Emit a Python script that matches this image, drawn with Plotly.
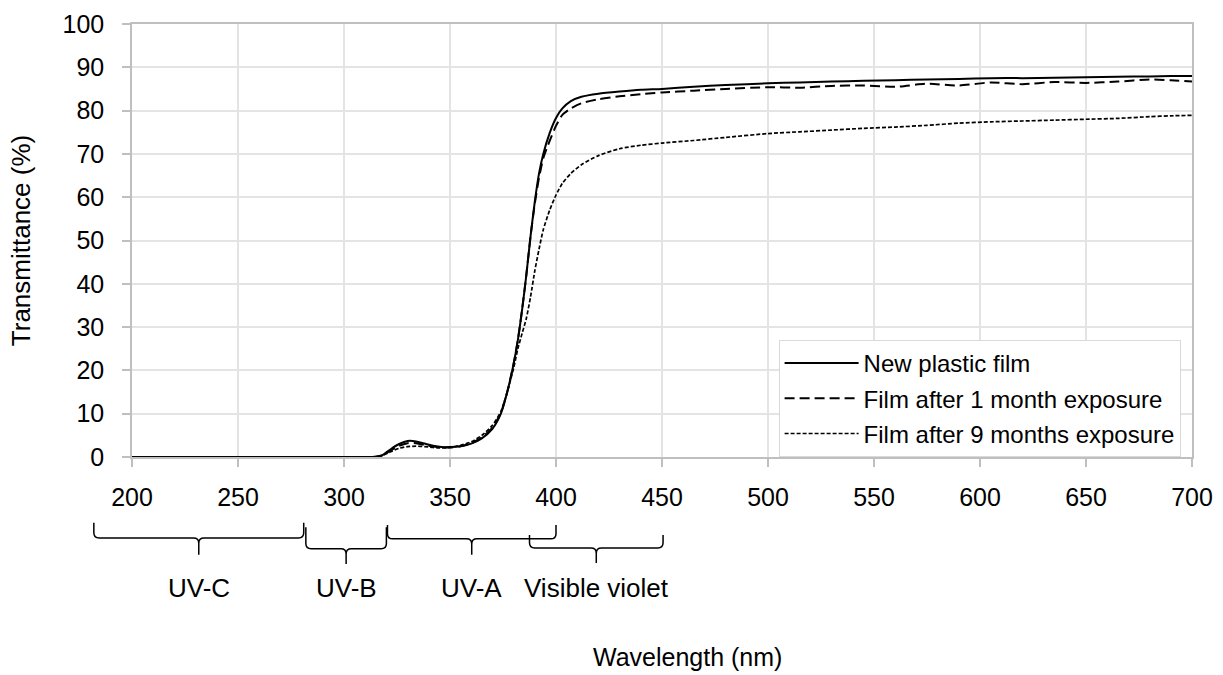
import plotly.graph_objects as go

# ---------------- data ----------------
wavelength = [200, 250, 300, 310, 315, 318, 322, 326, 330, 334, 338, 342, 346, 350, 355, 360, 365,
              370, 374, 377, 380, 382, 384, 386, 388, 390, 392, 394, 397, 400, 403, 407, 412, 420,
              430, 440, 450, 465, 480, 500, 515, 530, 545, 560, 575, 590, 605, 620, 635, 650, 665,
              680, 690, 700]

new_film = [0, 0, 0, 0, 0.05, 0.4, 1.8, 3.0, 3.7, 3.6, 3.1, 2.6, 2.3, 2.3, 2.5, 3.1, 4.3,
            6.5, 10, 15, 21.5, 27, 34, 42, 51, 59, 65.5, 70, 74.8, 78.3, 80.5, 82.2, 83.2, 83.9,
            84.4, 84.8, 85.0, 85.5, 85.9, 86.3, 86.5, 86.7, 86.9, 87.0, 87.2, 87.3, 87.5, 87.5, 87.6, 87.7, 87.8,
            87.9, 88.0, 88.0]

one_month = [0, 0, 0, 0, 0.05, 0.3, 1.5, 2.6, 3.2, 3.2, 2.8, 2.4, 2.2, 2.2, 2.5, 3.2, 4.5,
             6.8, 10.2, 15, 21.5, 27, 34, 42, 51, 58.5, 64.5, 69, 73, 76.5, 79, 80.5, 81.7, 82.6,
             83.3, 83.8, 84.2, 84.6, 85.0, 85.4, 85.3, 85.7, 85.8, 85.5, 86.2, 85.8, 86.5, 86.1, 86.6, 86.4, 86.7,
             87.2, 87.0, 86.7]

nine_months = [0, 0, 0, 0, 0.05, 0.3, 1.2, 2.0, 2.4, 2.5, 2.4, 2.2, 2.1, 2.2, 2.7, 3.5, 5.0,
               7.3, 10.5, 15, 20.5, 25, 28.5, 32, 37, 43, 48, 52.5, 57, 60.5, 63.2, 65.5, 67.5, 69.6,
               71.2, 72.0, 72.5, 73.1, 73.8, 74.7, 75.1, 75.5, 75.9, 76.2, 76.6, 77.1, 77.4, 77.6, 77.8, 78.0, 78.2,
               78.6, 78.8, 78.9]

series_names = ["New plastic film", "Film after 1 month exposure", "Film after 9 months exposure"]

# spectral bands shown with braces under the axis
band_names = ["UV-C", "UV-B", "UV-A", "Visible violet"]
band_start = [182, 282, 320.5, 387.5]
band_end = [281, 320, 400, 450.5]

x_title = "Wavelength (nm)"
y_title = "Transmittance (%)"

x_range = [200, 700]
y_range = [0, 100]

# ---------------- styles ----------------
FONT = "Liberation Sans, Arial, Helvetica, sans-serif"
line_styles = [dict(color="black", width=2, dash="solid"),
               dict(color="black", width=2, dash="10px,5px"),
               dict(color="black", width=1.7, dash="4px,2px")]

# vertical levels (paper units) of each brace: top of ends, horizontal bar, bottom of prong
brace_levels = [(-0.152, -0.187, -0.226),
                (-0.162, -0.212, -0.247),
                (-0.157, -0.189, -0.226),
                (-0.180, -0.210, -0.245)]
label_y = -0.302

fig = go.Figure()
for i, (name, vals, st) in enumerate(zip(series_names, [new_film, one_month, nine_months], line_styles)):
    fig.add_trace(go.Scatter(x=wavelength, y=vals, mode="lines", name=name, legendgroup=f"g{i}",
                             line=dict(color=st["color"], width=st["width"], dash=st["dash"],
                                       shape="spline", smoothing=0.6)))


def to_paper(wl):
    return (wl - x_range[0]) / (x_range[1] - x_range[0])


shapes = []
annotations = []
for nm, a, b, (yt, yh, yb) in zip(band_names, band_start, band_end, brace_levels):
    x0, x1 = to_paper(a), to_paper(b)
    xc = (x0 + x1) / 2
    rx, ry = 0.005, 0.012
    path = (f"M{x0},{yt} L{x0},{yh + ry} Q{x0},{yh} {x0 + rx},{yh} L{xc - rx},{yh} "
            f"Q{xc},{yh} {xc},{yh - ry} L{xc},{yb} M{xc},{yh - ry} Q{xc},{yh} {xc + rx},{yh} "
            f"L{x1 - rx},{yh} Q{x1},{yh} {x1},{yh + ry} L{x1},{yt}")
    shapes.append(dict(type="path", path=path, xref="paper", yref="paper",
                       line=dict(color="black", width=1.5)))
    annotations.append(dict(text=nm, x=xc, y=label_y, xref="paper", yref="paper",
                            showarrow=False, xanchor="center", yanchor="middle",
                            font=dict(size=26, color="black", family=FONT)))

# x-axis title (placed slightly right of centre, as in the original)
annotations.append(dict(text=x_title, x=0.524, y=-0.462, xref="paper", yref="paper",
                        showarrow=False, xanchor="center", yanchor="middle",
                        font=dict(size=25, color="black", family=FONT)))

fig.update_layout(
    width=1223, height=675,
    margin=dict(l=131.5, r=31, t=24, b=218),
    paper_bgcolor="white", plot_bgcolor="white",
    font=dict(family=FONT, size=24, color="black"),
    shapes=shapes, annotations=annotations,
    legend=dict(x=to_paper(505), y=0, xanchor="left", yanchor="bottom",
                bgcolor="white", bordercolor="#d9d9d9", borderwidth=1,
                font=dict(size=24, family=FONT, color="black"),
                tracegroupgap=1, itemwidth=74),
    showlegend=True,
)
fig.update_xaxes(range=x_range, dtick=50, tick0=200, showgrid=True, gridcolor="#e4e4e4", gridwidth=1.5,
                 showline=True, linecolor="#bfbfbf", linewidth=1.5, mirror=True,
                 ticks="outside", ticklen=8, tickcolor="#bfbfbf", tickwidth=1.5,
                 ticklabelstandoff=9, zeroline=False, automargin=False,
                 tickfont=dict(size=25, family=FONT, color="black"))
fig.update_yaxes(range=y_range, dtick=10, tick0=0, showgrid=True, gridcolor="#e4e4e4", gridwidth=1.5,
                 showline=True, linecolor="#bfbfbf", linewidth=1.5, mirror=True,
                 ticks="outside", ticklen=8, tickcolor="#bfbfbf", tickwidth=1.5,
                 ticklabelstandoff=13, zeroline=False, automargin=False,
                 tickfont=dict(size=25, family=FONT, color="black"),
                 title=dict(text=y_title, standoff=24,
                            font=dict(size=26, family=FONT, color="black")))

fig.write_html("out.html", post_script="document.body.style.margin='0';",
               config={"displayModeBar": False})
